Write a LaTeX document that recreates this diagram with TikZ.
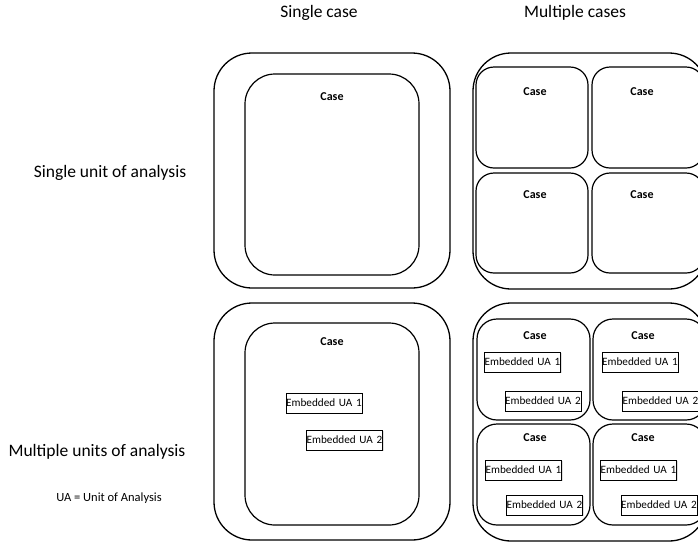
\documentclass[tikz,border=0pt]{standalone}
\usepackage{fontspec}
\setmainfont{Carlito}
\usetikzlibrary{shadows}
\begin{document}
\begin{tikzpicture}[x=1pt,y=-1pt,
  outerbox/.style={draw=black,line width=1.3pt,rounded corners=38pt,inner sep=0pt,outer sep=0pt},
  casebox/.style={draw=black,line width=1.2pt,rounded corners=#1,inner sep=0pt,outer sep=0pt,fill=white},
  casebox/.default=18pt,
  uabox/.style={draw=black,line width=1pt,fill=white,inner sep=0pt,outer sep=0pt,
    minimum height=20pt,text width=76pt,align=center,font=\fontsize{11.2}{12}\selectfont,
    drop shadow={shadow xshift=1.2pt,shadow yshift=-1.2pt,opacity=0.25}},
  caselabel/.style={font=\bfseries\fontsize{12}{13}\selectfont,inner sep=0pt},
  header/.style={font=\fontsize{17.5}{20}\selectfont,inner sep=0pt},
  note/.style={font=\fontsize{12.5}{14}\selectfont,inner sep=0pt}]
\useasboundingbox (0,0) rectangle (698,542);
\clip (0,0) rectangle (698,542);

% column and row headings
\node[header] (hsingle) at (319,13) {Single case};
\node[header] (hmulti) at (575,13) {Multiple cases};
\node[header] (rsingle) at (110,173) {Single unit of analysis};
\node[header] (rmulti) at (97,452) {Multiple units of analysis};
\node[note] (legend) at (109,498) {UA = Unit of Analysis};

% single case, single unit of analysis
\node[outerbox,minimum width=236pt,minimum height=235pt] (o11) at (332,170.5) {};
\node[casebox=30pt,minimum width=174pt,minimum height=201pt] (c11) at (332,174.5) {};
\node[caselabel] (l11) at (332,97) {Case};

% multiple cases, single unit of analysis
\node[outerbox,minimum width=234pt,minimum height=236pt] (o12) at (590,171) {};
\node[casebox,minimum width=112pt,minimum height=101pt] (c12a) at (532,117.5) {};
\node[casebox,minimum width=112pt,minimum height=101pt] (c12b) at (648,117.5) {};
\node[casebox,minimum width=112pt,minimum height=100pt] (c12c) at (532,223) {};
\node[casebox,minimum width=112pt,minimum height=100pt] (c12d) at (648,223) {};
\node[caselabel] (l12a) at (535,92) {Case};
\node[caselabel] (l12b) at (642,92) {Case};
\node[caselabel] (l12c) at (535,195) {Case};
\node[caselabel] (l12d) at (642,195) {Case};

% single case, multiple units of analysis
\node[outerbox,minimum width=236pt,minimum height=237pt] (o21) at (332,421.5) {};
\node[casebox=30pt,minimum width=174pt,minimum height=202pt] (c21) at (332,424) {};
\node[caselabel] (l21) at (332,342) {Case};
\node[uabox] (u21a) at (324,403) {Embedded UA 1};
\node[uabox] (u21b) at (344.5,440) {Embedded UA 2};

% multiple cases, multiple units of analysis
\node[outerbox,minimum width=234pt,minimum height=238pt] (o22) at (590,422) {};
\node[casebox=20pt,minimum width=113pt,minimum height=101pt] (c22a) at (533.5,369.5) {};
\node[casebox=20pt,minimum width=113pt,minimum height=101pt] (c22b) at (649.5,369.5) {};
\node[casebox=20pt,minimum width=113pt,minimum height=101pt] (c22c) at (533.5,474.5) {};
\node[casebox=20pt,minimum width=113pt,minimum height=101pt] (c22d) at (649.5,474.5) {};
\node[caselabel] (l22a) at (535,336) {Case};
\node[caselabel] (l22b) at (643,336) {Case};
\node[caselabel] (l22c) at (535,438) {Case};
\node[caselabel] (l22d) at (643,438) {Case};
\node[uabox] (u22a1) at (522.5,362) {Embedded UA 1};
\node[uabox] (u22a2) at (543,401) {Embedded UA 2};
\node[uabox] (u22b1) at (640,362) {Embedded UA 1};
\node[uabox] (u22b2) at (660.5,401) {Embedded UA 2};
\node[uabox] (u22c1) at (523.5,470) {Embedded UA 1};
\node[uabox] (u22c2) at (544.5,505) {Embedded UA 2};
\node[uabox] (u22d1) at (638.5,470) {Embedded UA 1};
\node[uabox] (u22d2) at (659,505) {Embedded UA 2};
\end{tikzpicture}
\end{document}
